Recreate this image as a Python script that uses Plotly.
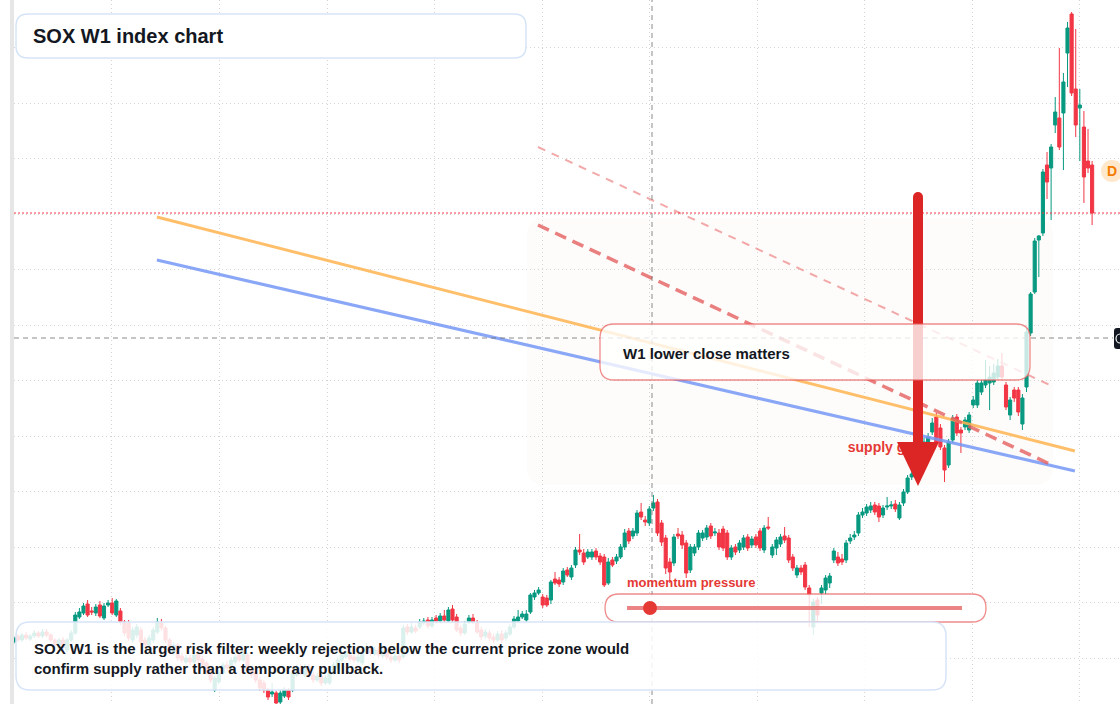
import plotly.graph_objects as go

# ---------------- data (weekly candles, index points) ----------------
OPEN = [62,68,64,69,65,68,71,68,72,69,64,57,64,54,64,71,87,91,100,93,
        91,99,86,99,101,89,93,82,81,64,69,74,64,59,64,72,81,76,64,52,
        59,48,42,46,42,52,45,41,34,14,22,31,39,36,42,49,44,49,34,32,
        24,21,14,10,11,2,8,14,14,29,36,29,37,29,24,28,21,21,31,36,
        44,47,49,47,43,41,52,56,50,54,48,52,47,44,48,47,77,72,76,77,
        81,84,78,86,83,88,83,95,87,76,71,82,86,81,74,68,71,67,64,70,
        66,70,77,83,87,84,92,107,111,107,106,104,125,124,122,134,127,139,154,151,
        147,147,153,148,147,121,144,143,147,157,173,168,171,192,184,181,196,202,181,166,
        142,141,170,169,161,134,151,157,166,167,178,171,171,175,171,147,157,154,157,167,
        159,167,173,154,177,149,156,160,168,166,147,129,136,139,116,77,104,111,114,121,
        144,147,145,144,163,167,171,189,191,194,199,198,189,197,198,200,186,201,212,227,
        230,242,252,262,272,287,276,256,239,264,287,274,277,274,299,299,312,319,321,322,
        327,338,319,289,314,314,280,317,371,412,464,471,539,536,579,586,591,651,690,615,
        596,577,543,539]
HIGH = [68,70,71,72,70,74,73,75,75,71,66,66,67,66,74,92,96,101,104,97,
        100,103,101,104,106,105,96,84,84,77,80,77,67,69,77,86,85,78,66,62,
        61,51,49,49,52,55,48,43,36,28,34,42,43,47,50,52,54,51,37,35,
        27,24,16,21,13,14,17,16,34,39,40,40,40,32,31,31,29,34,42,47,
        52,55,52,50,50,55,61,59,57,57,56,55,50,51,51,79,80,81,79,85,
        86,87,87,89,91,94,97,99,90,79,83,89,90,84,77,75,74,70,73,74,
        74,80,88,94,93,94,111,114,117,110,109,124,132,127,136,137,139,157,170,155,
        155,155,156,151,150,146,147,150,160,175,176,176,194,201,188,198,209,205,184,169,
        146,170,176,173,164,160,160,174,174,179,181,176,175,178,174,159,160,164,169,170,
        168,170,176,179,187,160,167,170,177,169,150,139,139,142,119,105,107,119,129,131,
        156,152,150,164,170,173,192,196,200,202,202,201,199,207,203,204,202,215,229,233,
        245,255,266,271,286,291,280,259,265,289,290,277,287,292,308,324,324,344,338,340,
        345,351,322,307,317,317,310,376,412,466,469,535,552,560,607,656,631,682,692,675,
        615,593,575,543]
LOW = [60,62,62,64,63,66,66,66,67,62,56,55,54,52,62,69,85,89,87,89,
       88,86,84,97,89,87,79,68,63,61,66,59,56,56,61,70,73,61,51,49,
       43,41,40,39,40,41,36,29,21,12,20,29,33,34,40,42,42,32,26,21,
       13,11,4,7,0,0,6,4,12,27,29,27,26,21,22,18,19,19,29,34,
       42,45,43,41,41,39,50,48,48,46,46,44,41,42,41,45,69,70,71,75,
       79,75,76,81,81,82,81,82,72,68,69,80,80,70,64,65,63,61,62,61,
       63,68,75,81,85,82,90,104,109,96,97,100,119,117,119,127,124,136,149,139,
       145,144,144,139,117,119,137,140,145,154,160,165,168,184,178,178,193,168,158,130,
       121,138,165,155,126,131,148,154,163,164,165,168,154,153,144,144,149,151,154,153,
       156,156,153,151,174,146,149,157,161,141,133,126,129,114,77,69,82,100,110,116,
       141,138,139,141,160,164,168,186,188,191,189,182,186,194,195,192,184,198,210,224,
       227,239,249,259,269,259,254,222,236,261,268,251,274,271,296,296,309,316,294,319,
       324,324,294,284,302,288,274,312,368,410,427,468,505,484,571,554,534,617,608,567,
       543,501,531,479]
CLOSE = [66,64,69,66,68,71,68,72,69,64,59,64,56,64,71,89,92,98,89,92,
         97,88,98,101,91,103,82,71,66,74,77,62,59,66,74,82,76,64,54,59,
         46,44,46,42,49,44,39,32,24,26,31,39,36,44,47,44,51,34,29,24,
         16,14,7,12,1,11,14,7,31,36,32,37,29,24,28,21,26,31,39,44,
         49,51,45,44,47,52,57,51,54,49,53,47,44,48,44,76,72,77,73,82,
         83,78,84,83,88,84,94,84,74,71,80,86,82,72,67,72,66,64,70,64,
         71,77,85,87,90,90,109,111,114,99,99,122,121,120,133,129,136,154,152,142,
         152,152,147,142,119,142,139,147,157,171,163,173,191,187,182,195,201,171,162,136,
         132,167,168,159,131,157,157,171,171,176,168,172,157,156,147,156,152,161,166,156,
         165,159,156,176,176,157,164,167,164,144,136,136,132,117,109,102,89,116,126,128,
         153,141,142,161,166,169,189,192,197,198,192,187,196,198,199,195,199,212,226,230,
         242,252,262,267,281,262,257,234,262,286,271,271,284,289,304,321,321,324,327,331,
         338,327,297,304,306,292,306,372,410,463,468,532,522,557,592,557,622,676,611,579,
         599,527,536,491]
WEEK = list(range(len(CLOSE)))

# drawn levels (week index, index points)
ORANGE_X, ORANGE_Y = [34.9, 258.8], [487, 253]
BLUE_X, BLUE_Y = [34.9, 258.8], [444, 233]
RISK_UPPER_X, RISK_UPPER_Y = [127.85, 253.2], [557, 318]
RISK_LOWER_X, RISK_LOWER_Y = [127.85, 253.2], [479, 239]
SUPPLY_LABEL_X, SUPPLY_LABEL_Y = 203.4, 256
CROSS_Y = 366

TITLE = "SOX W1 index chart"
NOTE = ("SOX W1 is the larger risk filter: weekly rejection below the current price zone would"
        "<br>confirm supply rather than a temporary pullback.")
BOX_TEXT = "W1 lower close matters"
MOMENTUM_TEXT = "momentum pressure"
SUPPLY_TEXT = "supply gate"

# ---------------- layout helpers (pixel -> paper) ----------------
W, H = 1120, 704
LM = 14
FONT = "Liberation Sans, Arial, Helvetica, sans-serif"
UP, DOWN = "#089981", "#f23645"


def px(x):
    return (x - LM) / (W - LM)


def py(y):
    return 1 - y / H


def rrect(x0, y0, x1, y1, r):
    return (f"M {px(x0 + r)},{py(y0)} L {px(x1 - r)},{py(y0)} "
            f"Q {px(x1)},{py(y0)} {px(x1)},{py(y0 + r)} L {px(x1)},{py(y1 - r)} "
            f"Q {px(x1)},{py(y1)} {px(x1 - r)},{py(y1)} L {px(x0 + r)},{py(y1)} "
            f"Q {px(x0)},{py(y1)} {px(x0)},{py(y1 - r)} L {px(x0)},{py(y0 + r)} "
            f"Q {px(x0)},{py(y0)} {px(x0 + r)},{py(y0)} Z")


fig = go.Figure()

# trend lines
fig.add_trace(go.Scatter(x=ORANGE_X, y=ORANGE_Y, mode="lines",
                         line=dict(color="rgba(255,180,80,0.85)", width=3),
                         hoverinfo="skip", showlegend=False))
fig.add_trace(go.Scatter(x=BLUE_X, y=BLUE_Y, mode="lines",
                         line=dict(color="rgba(118,150,245,0.85)", width=3.2),
                         hoverinfo="skip", showlegend=False))
fig.add_trace(go.Scatter(x=RISK_UPPER_X, y=RISK_UPPER_Y, mode="lines",
                         line=dict(color="rgba(238,140,140,0.75)", width=2, dash="8px,7px"),
                         hoverinfo="skip", showlegend=False))
fig.add_trace(go.Scatter(x=RISK_LOWER_X, y=RISK_LOWER_Y, mode="lines",
                         line=dict(color="rgba(228,95,95,0.8)", width=3.5, dash="12px,7px"),
                         hoverinfo="skip", showlegend=False))

fig.add_trace(go.Candlestick(
    x=WEEK, open=OPEN, high=HIGH, low=LOW, close=CLOSE,
    increasing=dict(line=dict(color=UP, width=1), fillcolor=UP),
    decreasing=dict(line=dict(color=DOWN, width=1), fillcolor=DOWN),
    whiskerwidth=0, hoverinfo="skip", showlegend=False))

fig.add_trace(go.Scatter(x=[SUPPLY_LABEL_X], y=[SUPPLY_LABEL_Y], mode="text",
                         text=[f"<b>{SUPPLY_TEXT}</b>"], textposition="middle right",
                         textfont=dict(color="#e53935", size=14, family=FONT),
                         hoverinfo="skip", showlegend=False))

shapes = []
# shaded zone
shapes.append(dict(type="path", xref="paper", yref="paper", path=rrect(527, 218, 1053, 485, 18),
                   fillcolor="rgba(248,232,215,0.13)", line=dict(width=0), layer="below"))
# crosshair
shapes.append(dict(type="line", xref="paper", yref="paper", x0=px(652), x1=px(652), y0=0, y1=1,
                   line=dict(color="rgba(110,110,110,0.8)", width=1, dash="5px,4px"), layer="above"))
shapes.append(dict(type="line", xref="paper", yref="y", x0=0, x1=px(1113), y0=CROSS_Y, y1=CROSS_Y,
                   line=dict(color="rgba(110,110,110,0.8)", width=1, dash="5px,4px"), layer="above"))
# last price line
shapes.append(dict(type="line", xref="paper", yref="y", x0=0, x1=1, y0=CLOSE[-1], y1=CLOSE[-1],
                   line=dict(color=DOWN, width=1, dash="2px,2px"), layer="above"))
# arrow
shapes.append(dict(type="line", xref="paper", yref="paper", x0=px(918), x1=px(918), y0=py(197), y1=py(445),
                   line=dict(color="#dc2626", width=10), layer="above"))
shapes.append(dict(type="circle", xref="paper", yref="paper", x0=px(913), x1=px(923), y0=py(192), y1=py(202),
                   fillcolor="#dc2626", line=dict(width=0), layer="above"))
shapes.append(dict(type="path", xref="paper", yref="paper",
                   path=f"M {px(897)},{py(442)} L {px(939)},{py(442)} L {px(918)},{py(486)} Z",
                   fillcolor="#dc2626", line=dict(width=0), layer="above"))
# W1 box
shapes.append(dict(type="path", xref="paper", yref="paper", path=rrect(600, 324, 1030, 380, 14),
                   fillcolor="rgba(255,255,255,0.78)", line=dict(color="rgba(232,90,90,0.7)", width=1.3),
                   layer="above"))
# momentum pill
shapes.append(dict(type="path", xref="paper", yref="paper", path=rrect(605, 594, 986, 622, 14),
                   fillcolor="rgba(255,255,255,0.8)", line=dict(color="rgba(232,90,90,0.7)", width=1.3),
                   layer="above"))
shapes.append(dict(type="line", xref="paper", yref="paper", x0=px(627), x1=px(962), y0=py(608), y1=py(608),
                   line=dict(color="rgba(232,110,110,0.85)", width=4), layer="above"))
shapes.append(dict(type="circle", xref="paper", yref="paper", x0=px(643), x1=px(657), y0=py(601), y1=py(615),
                   fillcolor="#e53935", line=dict(width=0), layer="above"))
# note box
shapes.append(dict(type="path", xref="paper", yref="paper", path=rrect(16, 622, 946, 690, 14),
                   fillcolor="rgba(255,255,255,0.85)", line=dict(color="#d6e4f8", width=1.5),
                   layer="above"))
# title box
shapes.append(dict(type="path", xref="paper", yref="paper", path=rrect(16, 14, 526, 58, 12),
                   fillcolor="rgba(255,255,255,0.97)", line=dict(color="#d6e4f8", width=1.5),
                   layer="above"))
# left strip
shapes.append(dict(type="rect", xref="paper", yref="paper", x0=px(10), x1=px(14), y0=0, y1=1,
                   fillcolor="#e6e6e6", line=dict(width=0), layer="above"))
# right edge badges
shapes.append(dict(type="circle", xref="paper", yref="paper", x0=px(1101), x1=px(1123), y0=py(160), y1=py(182),
                   fillcolor="#ffe8cc", line=dict(width=0), layer="above"))
shapes.append(dict(type="path", xref="paper", yref="paper", path=rrect(1114, 328, 1130, 349, 3),
                   fillcolor="#131722", line=dict(width=0), layer="above"))
shapes.append(dict(type="circle", xref="paper", yref="paper", x0=px(1116), x1=px(1124), y0=py(334), y1=py(343),
                   fillcolor="rgba(0,0,0,0)", line=dict(color="#ffffff", width=1.2), layer="above"))

annotations = [
    dict(xref="paper", yref="paper", x=px(31), y=py(36), xanchor="left", yanchor="middle",
         text=f"<b>{TITLE}</b>", showarrow=False, font=dict(size=20, color="#131722", family=FONT)),
    dict(xref="paper", yref="paper", x=px(621), y=py(353), xanchor="left", yanchor="middle",
         text=f"<b>{BOX_TEXT}</b>", showarrow=False, font=dict(size=15, color="#131722", family=FONT)),
    dict(xref="paper", yref="paper", x=px(32), y=py(658), xanchor="left", yanchor="middle", align="left",
         text=f"<b>{NOTE}</b>", showarrow=False, font=dict(size=15, color="#131722", family=FONT)),
    dict(xref="paper", yref="paper", x=px(625), y=py(582), xanchor="left", yanchor="middle",
         text=f"<b>{MOMENTUM_TEXT}</b>", showarrow=False, font=dict(size=13, color="#e53935", family=FONT)),
    dict(xref="paper", yref="paper", x=px(1112), y=py(171), xanchor="center", yanchor="middle",
         text="<b>D</b>", showarrow=False, font=dict(size=14, color="#f57c00", family=FONT)),
]

fig.update_layout(
    width=W, height=H, autosize=False,
    margin=dict(l=LM, r=0, t=0, b=0, pad=0),
    paper_bgcolor="#ffffff", plot_bgcolor="#ffffff",
    showlegend=False, hovermode=False,
    boxgap=0.2, boxgroupgap=0.05,
    shapes=shapes, annotations=annotations,
    xaxis=dict(range=[0.05, 269.8], tick0=23.95, dtick=26.22, showgrid=True,
               gridcolor="#d5d5d5", griddash="1px,3px", gridwidth=1,
               showticklabels=False, ticks="", zeroline=False, showline=False,
               rangeslider=dict(visible=False)),
    yaxis=dict(range=[0, 704], tick0=46, dtick=55.5, showgrid=True,
               gridcolor="#d5d5d5", griddash="1px,3px", gridwidth=1,
               showticklabels=False, ticks="", zeroline=False, showline=False),
)

fig.write_html("out.html", config=dict(displayModeBar=False, staticPlot=True))
